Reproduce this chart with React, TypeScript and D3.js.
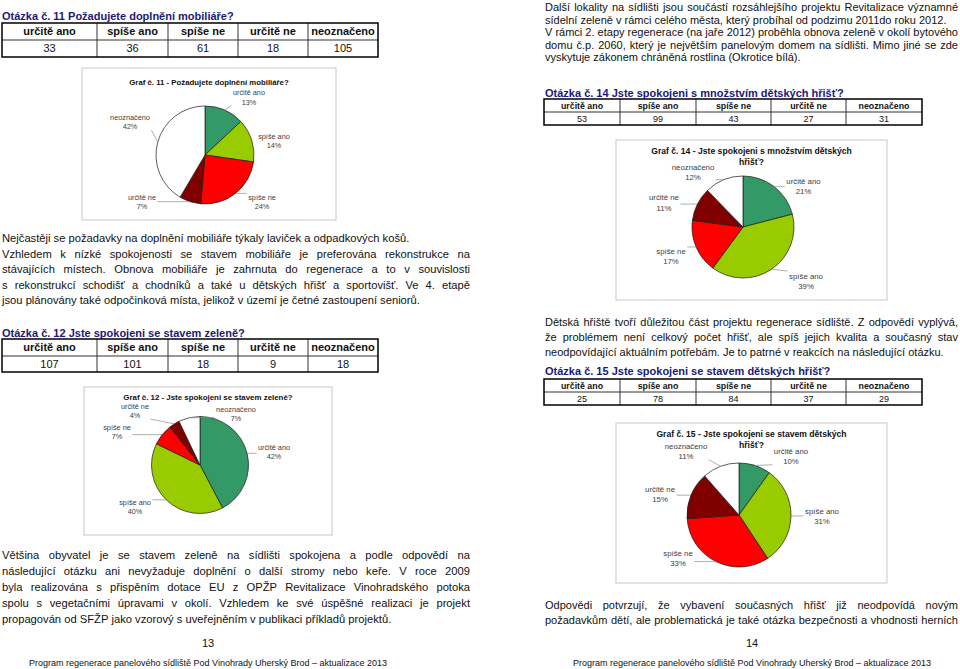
import React from "react";
import * as d3 from "d3";

// ---------- DATA ----------
const categories = ["určitě ano", "spíše ano", "spíše ne", "určitě ne", "neoznačeno"];
const q11Values = [33, 36, 61, 18, 105];
const q12Values = [107, 101, 18, 9, 18];
const q14Values = [53, 99, 43, 27, 31];
const q15Values = [25, 78, 84, 37, 29];
const sliceColors = ["#339966", "#99cc00", "#ff0000", "#800000", "#ffffff"];

const q11Title = "Otázka č. 11 Požadujete doplnění mobiliáře?";
const q12Title = "Otázka č. 12 Jste spokojeni se stavem zeleně?";
const q14Title = "Otázka č. 14 Jste spokojeni s množstvím dětských hřišť?";
const q15Title = "Otázka č. 15 Jste spokojeni se stavem dětských hřišť?";
const g11Title = ["Graf č. 11 - Požadujete doplnění mobiliáře?"];
const g12Title = ["Graf č. 12 - Jste spokojeni se stavem zeleně?"];
const g14Title = ["Graf č. 14 - Jste spokojeni s množstvím dětských", "hřišť?"];
const g15Title = ["Graf č. 15 - Jste spokojeni se stavem dětských", "hřišť?"];

const leftP1a = [
  "Nejčastěji se požadavky na doplnění mobiliáře týkaly laviček a odpadkových košů.",
];
const leftP1b = [
  "Vzhledem k nízké spokojenosti se stavem mobiliáře je preferována rekonstrukce na",
  "stávajících místech. Obnova mobiliáře je zahrnuta do regenerace a to v souvislosti",
  "s rekonstrukcí schodišť a chodníků a také u dětských hřišť a sportovišť. Ve 4. etapě",
  "jsou plánovány také odpočinková místa, jelikož v území je četné zastoupení seniorů.",
];
const leftP2 = [
  "Většina obyvatel je se stavem zeleně na sídlišti spokojena a podle odpovědí na",
  "následující otázku ani nevyžaduje doplnění o další stromy nebo keře. V roce 2009",
  "byla realizována s přispěním dotace EU z OPŽP Revitalizace Vinohradského potoka",
  "spolu s vegetačními úpravami v okolí. Vzhledem ke své úspěšné realizaci je projekt",
  "propagován od SFŽP jako vzorový s uveřejněním v publikaci příkladů projektů.",
];
const rightP1 = [
  "Další lokality na sídlišti jsou součástí rozsáhlejšího projektu Revitalizace významné",
  "sídelní zeleně v rámci celého města, který probíhal od podzimu 2011do roku 2012.",
];
const rightP2 = [
  "V rámci 2. etapy regenerace (na jaře 2012) proběhla obnova zeleně v okolí bytového",
  "domu č.p. 2060, který je největším panelovým domem na sídlišti. Mimo jiné se zde",
  "vyskytuje zákonem chráněná rostlina (Okrotice bílá).",
];
const rightP3 = [
  "Dětská hřiště tvoří důležitou část projektu regenerace sídliště. Z odpovědí vyplývá,",
  "že problémem není celkový počet hřišť, ale spíš jejich kvalita a současný stav",
  "neodpovídající aktuálním potřebám. Je to patrné v reakcích na následující otázku.",
];
const rightP4 = [
  "Odpovědi potvrzují, že vybavení současných hřišť již neodpovídá novým",
  "požadavkům dětí, ale problematická je také otázka bezpečnosti a vhodnosti herních",
];
const footerText = "Program regenerace panelového sídliště Pod Vinohrady Uherský Brod – aktualizace 2013";
const pageNumbers = ["13", "14"];

// ---------- LAYOUT ----------
const FONT = '"Liberation Sans", Arial, Helvetica, sans-serif';
const NAVY = "#1a1a78";
// label placement: [angle in degrees clockwise from top, distance from centre]
const q11LabelPos = [[37.4, 72.4], [78.5, 70.4], [129.5, 73.9], [233.3, 78.6], [293.7, 81.9]];
const q12LabelPos = [[79.8, 75.2], [237.1, 77.4], [291.7, 89.3], [309.7, 84.5], [35.2, 62.4]];
const q14LabelPos = [[55.9, 73], [130.6, 83], [248.1, 77.6], [287.2, 82.7], [317.7, 74.3]];
const q15LabelPos = [[41.4, 78.6], [90.7, 83], [234.8, 74.6], [284.9, 81.7], [320.4, 83.1]];

let _ctx: CanvasRenderingContext2D | null = null;
function measure(text: string, size: number, bold = false): number {
  if (!_ctx) _ctx = document.createElement("canvas").getContext("2d");
  if (!_ctx) return text.length * size * 0.5;
  _ctx.font = `${bold ? "bold " : ""}${size}px "Liberation Sans", Arial, sans-serif`;
  return _ctx.measureText(text).width;
}

function JLine({ text, x, width, y, size, justify }: any) {
  const words = text.split(" ");
  const widths = words.map((w: string) => measure(w, size));
  const total = widths.reduce((a: number, b: number) => a + b, 0);
  const space = measure(" ", size);
  const gap = justify && words.length > 1 ? (width - total) / (words.length - 1) : space;
  let cx = x;
  const xs: number[] = [];
  words.forEach((w: string, i: number) => {
    xs.push(cx);
    cx += widths[i] + gap;
  });
  return (
    <text y={y} fontSize={size} fill="#111">
      {words.map((w: string, i: number) => (
        <tspan key={i} x={xs[i]}>{w}</tspan>
      ))}
    </text>
  );
}

function Paragraph({ lines, x, width, y0, lh, size = 11, justifyLast = false }: any) {
  return (
    <g>
      {lines.map((l: string, i: number) => (
        <JLine key={i} text={l} x={x} width={width} y={y0 + i * lh} size={size}
          justify={i < lines.length - 1 || justifyLast} />
      ))}
    </g>
  );
}

function Table({ cols, top, mid, bottom, values, hSize, vSize }: any) {
  const x0 = cols[0], x1 = cols[cols.length - 1];
  return (
    <g>
      {cols.slice(1, -1).map((c: number, i: number) => (
        <line key={i} x1={c} x2={c} y1={top} y2={bottom} stroke="#333" strokeWidth={1} />
      ))}
      <line x1={x0} x2={x1} y1={mid} y2={mid} stroke="#333" strokeWidth={1} />
      <rect x={x0} y={top} width={x1 - x0} height={bottom - top} fill="none" stroke="#000" strokeWidth={1.5} />
      {categories.map((c, i) => {
        const cx = (cols[i] + cols[i + 1]) / 2;
        return (
          <g key={i}>
            <text x={cx} y={(top + mid) / 2 + hSize * 0.36} fontSize={hSize} fontWeight="bold" textAnchor="middle" fill="#111">{c}</text>
            <text x={cx} y={(mid + bottom) / 2 + vSize * 0.36} fontSize={vSize} textAnchor="middle" fill="#111">{values[i]}</text>
          </g>
        );
      })}
    </g>
  );
}

function PieChart({ box, titleLines, titleSize, titleY, cx, cy, r, values, labelPos, labelSize, lineGap }: any) {
  const total = d3.sum(values as number[]);
  const arcs = d3.pie<number>().sort(null).value((d) => d)(values);
  const arcGen = d3.arc<any>().innerRadius(0).outerRadius(r);
  const [bx0, by0, bx1, by1] = box;
  const tcx = (bx0 + bx1) / 2;
  return (
    <g>
      <rect x={bx0} y={by0} width={bx1 - bx0} height={by1 - by0} fill="#fff" stroke="#c8c8c8" strokeWidth={1} />
      {titleLines.map((t: string, i: number) => (
        <text key={i} x={tcx} y={titleY + i * (titleSize + 2.5)} fontSize={titleSize} fontWeight="bold" textAnchor="middle" fill="#111">{t}</text>
      ))}
      <g transform={`translate(${cx},${cy})`}>
        {arcs.map((a, i) => (
          <path key={i} d={arcGen(a) as string} fill={sliceColors[i]} stroke="#1a1a1a" strokeWidth={0.7} strokeLinejoin="round" />
        ))}
      </g>
      {arcs.map((a, i) => {
        const mid = (a.startAngle + a.endAngle) / 2;
        const sx = cx + r * Math.sin(mid);
        const sy = cy - r * Math.cos(mid);
        const ang = (labelPos[i][0] * Math.PI) / 180;
        const lx = cx + labelPos[i][1] * Math.sin(ang);
        const ly = cy - labelPos[i][1] * Math.cos(ang);
        const name = categories[i];
        const pct = Math.round((values[i] / total) * 100) + "%";
        const w = Math.max(measure(name, labelSize), measure(pct, labelSize)) + 3;
        const bxa = lx - w / 2, bxb = lx + w / 2;
        const bya = ly - lineGap / 2 - labelSize * 0.6, byb = ly + lineGap / 2 + labelSize * 0.45;
        const ex = Math.max(bxa, Math.min(bxb, sx));
        const ey = Math.max(bya, Math.min(byb, sy));
        const dist = Math.hypot(ex - sx, ey - sy);
        return (
          <g key={i}>
            {dist > 5 && (
              <line x1={sx} y1={sy} x2={ex} y2={ey} stroke="#8c8c8c" strokeWidth={0.7} />
            )}
            <text x={lx} y={ly - lineGap / 2 + labelSize * 0.36} fontSize={labelSize} textAnchor="middle" fill="#404040">{name}</text>
            <text x={lx} y={ly + lineGap / 2 + labelSize * 0.36} fontSize={labelSize} textAnchor="middle" fill="#404040">{pct}</text>
          </g>
        );
      })}
    </g>
  );
}

export default function App() {
  const leftCols = [2, 97, 168, 238, 308, 378];
  const rightCols = [544, 620, 696, 771, 846, 922];
  const LS = 11.2;
  return (
    <svg width={960} height={669} viewBox="0 0 960 669" fontFamily={FONT}
      style={{ position: "absolute", left: 0, top: 0, display: "block", background: "#fff" }}>
      <rect x={0} y={0} width={960} height={669} fill="#fff" />

      {/* LEFT PAGE */}
      <text x={2} y={20} fontSize={11} fontWeight="bold" fill={NAVY}>{q11Title}</text>
      <Table cols={leftCols} top={23} mid={40} bottom={57} values={q11Values} hSize={11} vSize={11} />
      <PieChart box={[82, 68, 336, 220]} titleLines={g11Title} titleSize={7.8} titleY={85}
        cx={205} cy={155} r={49} values={q11Values} labelPos={q11LabelPos} labelSize={7.3} lineGap={9.5} />

      <Paragraph lines={leftP1a} x={2} width={468} y0={242} lh={15.5} size={LS} />
      <Paragraph lines={leftP1b} x={2} width={468} y0={257.5} lh={15.5} size={LS} />

      <text x={2} y={337} fontSize={11} fontWeight="bold" fill={NAVY}>{q12Title}</text>
      <Table cols={leftCols} top={339} mid={356} bottom={372} values={q12Values} hSize={11} vSize={11} />
      <PieChart box={[84, 387, 332, 535]} titleLines={g12Title} titleSize={7.9} titleY={400}
        cx={200} cy={465} r={48.5} values={q12Values} labelPos={q12LabelPos} labelSize={7.3} lineGap={9.5} />

      <Paragraph lines={leftP2} x={2} width={468} y0={559} lh={16} size={LS} />
      <text x={208} y={647} fontSize={11} textAnchor="middle" fill="#111">{pageNumbers[0]}</text>
      <text x={208} y={666} fontSize={9} textAnchor="middle" fill="#111">{footerText}</text>

      {/* RIGHT PAGE */}
      <Paragraph lines={rightP1} x={545} width={413} y0={11} lh={12.5} />
      <Paragraph lines={rightP2} x={545} width={413} y0={36} lh={12.5} />

      <text x={545} y={97} fontSize={11} fontWeight="bold" fill={NAVY}>{q14Title}</text>
      <Table cols={rightCols} top={99} mid={112} bottom={125} values={q14Values} hSize={8.8} vSize={9} />
      <PieChart box={[616, 140, 887, 300]} titleLines={g14Title} titleSize={8.6} titleY={154}
        cx={743} cy={227} r={51} values={q14Values} labelPos={q14LabelPos} labelSize={7.8} lineGap={10.5} />

      <Paragraph lines={rightP3} x={545} width={413} y0={326} lh={15} />

      <text x={545} y={375} fontSize={11} fontWeight="bold" fill={NAVY}>{q15Title}</text>
      <Table cols={rightCols} top={379} mid={392} bottom={405} values={q15Values} hSize={8.8} vSize={9} />
      <PieChart box={[616, 423, 887, 583]} titleLines={g15Title} titleSize={8.6} titleY={437}
        cx={739} cy={515} r={52} values={q15Values} labelPos={q15LabelPos} labelSize={7.8} lineGap={10.5} />

      <Paragraph lines={rightP4} x={545} width={413} y0={609} lh={15} justifyLast={true} />
      <text x={752} y={647} fontSize={11} textAnchor="middle" fill="#111">{pageNumbers[1]}</text>
      <text x={752} y={666} fontSize={9} textAnchor="middle" fill="#111">{footerText}</text>
    </svg>
  );
}
